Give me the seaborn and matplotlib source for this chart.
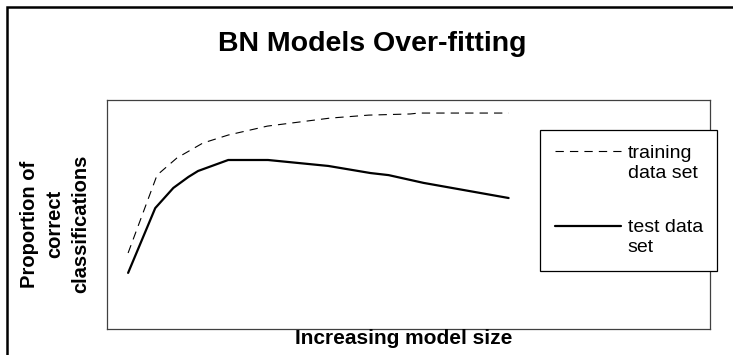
import pandas as pd
import matplotlib.pyplot as plt
import matplotlib.patches as mpatches
import seaborn as sns

# model size (arbitrary units, axis 0..100) and proportion correct (0..1)
train_size = [3.5, 8.3, 11.6, 15.9, 20.1, 26.6, 37.0, 43.4, 50.3, 51.7, 66.6]
train_prop = [0.332, 0.672, 0.747, 0.812, 0.847, 0.886, 0.921, 0.934, 0.939, 0.943, 0.943]
test_size = [3.5, 8.0, 11.0, 13.5, 15.1, 20.1, 26.7, 36.7, 43.7, 46.7, 52.5, 66.6]
test_prop = [0.245, 0.528, 0.616, 0.664, 0.690, 0.738, 0.738, 0.712, 0.681, 0.672, 0.638, 0.572]
series_names = ["training\ndata set", "test data\nset"]

df = pd.concat([
    pd.DataFrame({"size": train_size, "prop": train_prop, "series": series_names[0]}),
    pd.DataFrame({"size": test_size, "prop": test_prop, "series": series_names[1]}),
])

sns.set_theme(style="white")
plt.rcParams['font.family'] = ['Liberation Sans', 'DejaVu Sans']
plt.rcParams['text.color'] = 'black'

fig = plt.figure(figsize=(7.33, 3.55), dpi=100)
ax = fig.add_axes([107 / 733, 1 - 329 / 355, 603 / 733, 229 / 355])

sns.lineplot(
    data=df, x="size", y="prop",
    style="series", size="series",
    dashes={series_names[0]: (7.5, 5.5), series_names[1]: ""},
    sizes={series_names[0]: 0.8, series_names[1]: 1.6},
    color="black", legend=False, ax=ax,
)

ax.set_xlim(0, 100)
ax.set_ylim(0, 1)
ax.set_xticks([])
ax.set_yticks([])
ax.set_xlabel("")
ax.set_ylabel("")
for sp in ax.spines.values():
    sp.set_color("#404040")
    sp.set_linewidth(0.9)

# outer border (left and top visible)
fig.patches.append(mpatches.Rectangle(
    (7 / 733, -0.2), 1.1, 1.2 - 7 / 355, transform=fig.transFigure,
    fill=False, edgecolor="black", linewidth=1.8, zorder=0))

fig.text(372 / 733, 1 - 44 / 355, "BN Models Over-fitting",
         ha="center", va="center", fontsize=20.5, fontweight="bold")
fig.text(404 / 733, 1 - 339 / 355, "Increasing model size",
         ha="center", va="center", fontsize=15, fontweight="bold")
fig.text(55 / 733, 1 - 224 / 355, "Proportion of\ncorrect\nclassifications",
         ha="center", va="center", rotation=90, fontsize=14.5,
         fontweight="bold", multialignment="center", linespacing=1.45)

leg = fig.legend(
    ax.lines[:2], series_names,
    loc="upper left", bbox_to_anchor=(540 / 733, 1 - 130 / 355),
    bbox_transform=fig.transFigure, borderaxespad=0,
    fontsize=14, frameon=True, fancybox=False, framealpha=1,
    edgecolor="black", handlelength=3.4, handletextpad=0.35,
    borderpad=0.75, labelspacing=1.9,
)
leg.get_frame().set_linewidth(0.9)
for col in leg._legend_handle_box.get_children():
    for item in col.get_children():
        item.align = "top"
for t in leg.get_texts():
    t.set_linespacing(1.25)

fig.savefig("out.png", dpi=100)
plt.close()
